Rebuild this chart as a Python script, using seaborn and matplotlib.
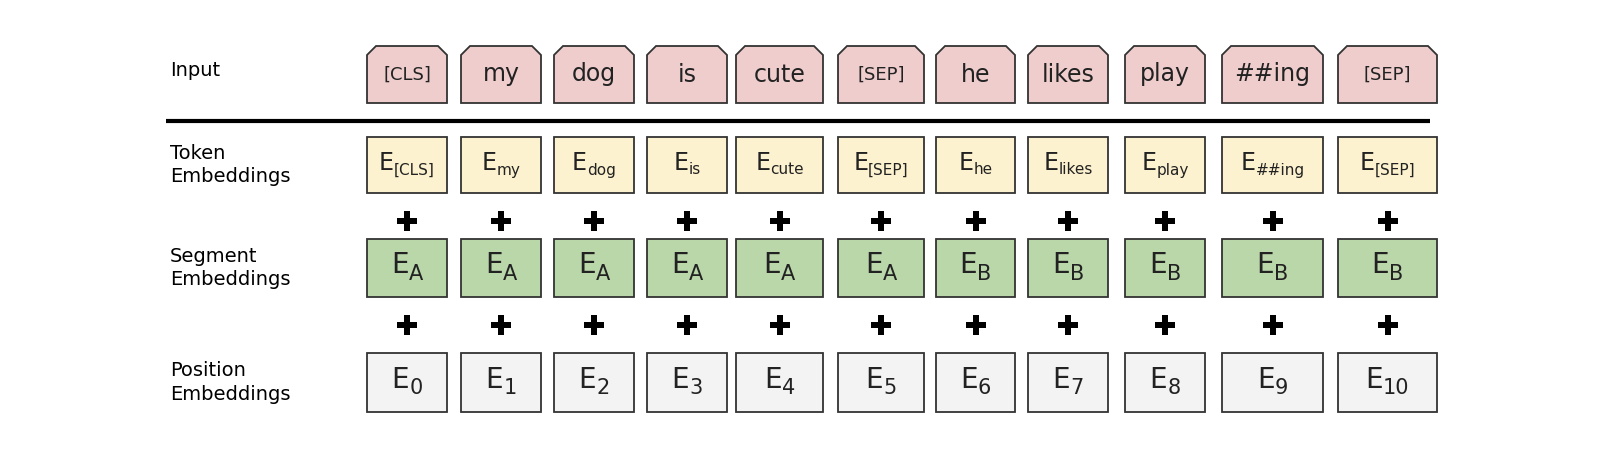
import matplotlib
matplotlib.use("Agg")
import matplotlib.pyplot as plt
import seaborn as sns
import pandas as pd
from matplotlib.patches import Polygon, Rectangle

# ---- data ----
tokens = ["[CLS]", "my", "dog", "is", "cute", "[SEP]", "he", "likes", "play", "##ing", "[SEP]"]
segments = ["A", "A", "A", "A", "A", "A", "B", "B", "B", "B", "B"]
positions = [str(i) for i in range(11)]
row_labels = ["Input", "Token\nEmbeddings", "Segment\nEmbeddings", "Position\nEmbeddings"]

# ---- layout (pixels) ----
col_left = [367, 461, 554, 647, 736, 838, 936, 1028, 1125, 1222, 1338]
col_right = [447, 541, 634, 727, 823, 924, 1015, 1108, 1205, 1323, 1437]
rows_y = [(46, 103), (137, 193), (239, 297), (353, 412)]
plus_y = [221, 325]

sns.set_theme(style="white")
plt.rcParams["font.family"] = ["DejaVu Sans"]

fig = plt.figure(figsize=(16.22, 4.58), dpi=100)
ax = fig.add_axes([0, 0, 1, 1])
ax.set_xlim(0, 1622)
ax.set_ylim(458, 0)
ax.axis("off")

edge = "#333333"
fills = ["#EFCDCD", "#FDF2CF", "#BAD7AA", "#F3F3F3"]
renderer = fig.canvas.get_renderer()


def e_text(cx, cy, sub, big, small, dy):
    t1 = ax.text(0, cy, "E", fontsize=big, ha="left", va="center", color="#222222")
    t2 = ax.text(0, cy + dy, sub, fontsize=small, ha="left", va="center", color="#222222")
    inv = ax.transData.inverted()
    w1 = t1.get_window_extent(renderer).width
    w2 = t2.get_window_extent(renderer).width
    w1d = inv.transform((w1, 0))[0] - inv.transform((0, 0))[0]
    w2d = inv.transform((w2, 0))[0] - inv.transform((0, 0))[0]
    x0 = cx - (w1d + w2d) / 2
    t1.set_x(x0)
    t2.set_x(x0 + w1d)


for i, tok in enumerate(tokens):
    l, r = col_left[i], col_right[i]
    cx = (l + r) / 2
    # input box with chamfered top corners
    y0, y1 = rows_y[0]
    c = 9
    ax.add_patch(Polygon([(l, y1), (l, y0 + c), (l + c, y0), (r - c, y0), (r, y0 + c), (r, y1)],
                         closed=True, fc=fills[0], ec=edge, lw=1.3))
    fs = 13 if tok.startswith("[") else 17
    ax.text(cx, (y0 + y1) / 2, tok, fontsize=fs, ha="center", va="center", color="#222222")
    for k in range(1, 4):
        y0, y1 = rows_y[k]
        ax.add_patch(Rectangle((l, y0), r - l, y1 - y0, fc=fills[k], ec=edge, lw=1.3))
    e_text(cx, (rows_y[1][0] + rows_y[1][1]) / 2 - 2, tok, 17, 11, 7)
    e_text(cx, (rows_y[2][0] + rows_y[2][1]) / 2 - 3, segments[i], 20, 15, 9)
    e_text(cx, (rows_y[3][0] + rows_y[3][1]) / 2 - 3, positions[i], 20, 15, 9)

# plus signs
plus_df = pd.DataFrame([(0.5 * (col_left[i] + col_right[i]), y) for i in range(len(tokens)) for y in plus_y],
                       columns=["x", "y"])
sns.scatterplot(data=plus_df, x="x", y="y", marker="P", s=190, color="black", linewidth=0, ax=ax, legend=False)
ax.set_xlim(0, 1622)
ax.set_ylim(458, 0)
ax.axis("off")

# separator line
ax.plot([166, 1430], [121, 121], color="black", lw=3, solid_capstyle="butt")

for lab, (y0, y1) in zip(row_labels, rows_y):
    ax.text(170, (y0 + y1) / 2 - (4 if "\n" not in lab else 0), lab, fontsize=14,
            ha="left", va="center", linespacing=1.3, color="black")

fig.savefig("out.png", dpi=100)
